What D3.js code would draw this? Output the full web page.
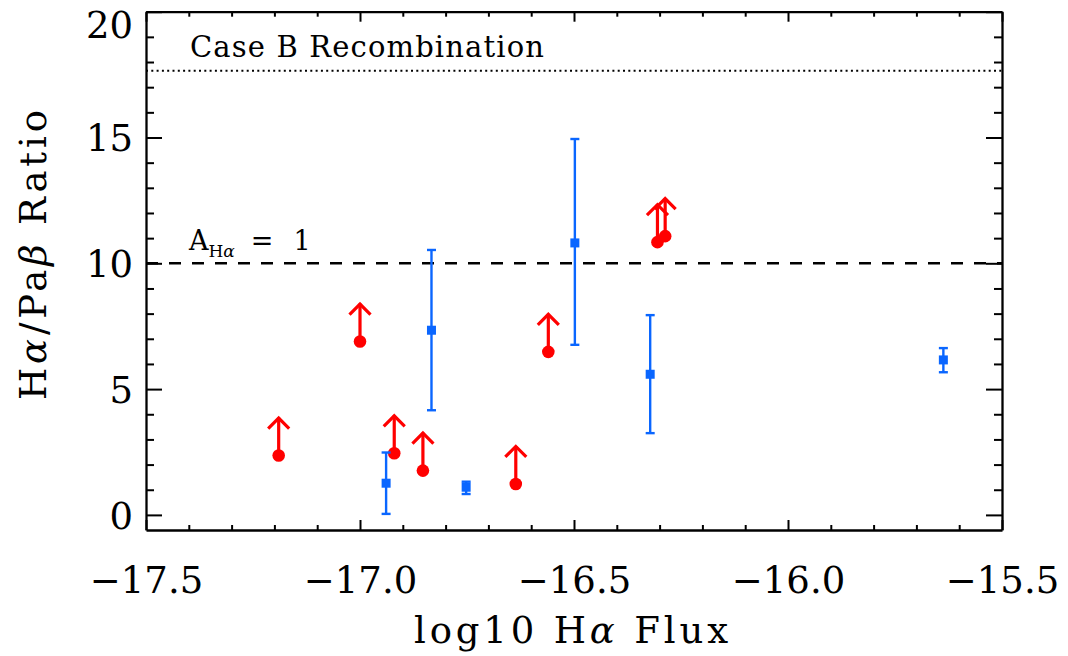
<!DOCTYPE html>
<html>
<head>
<meta charset="utf-8">
<script src="https://cdn.jsdelivr.net/npm/d3@7"></script>
<style>
  html, body { margin: 0; padding: 0; background: #fff; }
  svg { display: block; }
  text { font-family: "DejaVu Serif", serif; fill: #000; }
</style>
</head>
<body>
<svg id="chart" width="1068" height="656"></svg>
<script>
// ---------- data ----------
const xTicks = [-17.5, -17.0, -16.5, -16.0, -15.5];
const yTicks = [0, 5, 10, 15, 20];

// lower limits (red circles with upward arrows)
const limX = [-17.19, -17.00, -16.92, -16.853, -16.636, -16.56, -16.305, -16.287];
const limY = [2.36, 6.89, 2.45, 1.76, 1.23, 6.48, 10.84, 11.08];

// detections (blue squares with error bars)
const detX  = [-16.939, -16.752, -16.833, -16.498, -16.322, -15.637];
const detY  = [1.26, 1.10, 7.34, 10.81, 5.59, 6.16];
const detLo = [0.04, 0.83, 4.16, 6.76, 3.25, 5.67];
const detHi = [2.48, 1.32, 10.53, 14.94, 7.94, 6.63];

const caseB = 17.65;   // Case B recombination ratio
const aHa1  = 10.0;    // A_Hα = 1 line

// ---------- layout ----------
const svg = d3.select("#chart");
const L = 146, R = 1002, T = 11.7, B = 530;
const x = d3.scaleLinear().domain([-17.5, -15.5]).range([L, R]);
const y = d3.scaleLinear().domain([-0.6, 20]).range([B, T]);

const fmt = d => d.toFixed(1).replace("-", "\u2212");
const xMinor = d3.range(0, 21).map(i => -17.5 + i * 0.1).filter(v => Math.abs(Math.round(v * 2) - v * 2) > 1e-6);
const yMinor = d3.range(0, 21).filter(v => v % 5 !== 0);

function styleAxis(g) {
  g.selectAll("path.domain").attr("stroke", "#000").attr("stroke-width", 2.3);
  g.selectAll(".tick line").attr("stroke", "#000").attr("stroke-width", 2);
}

// bottom axis
const gb = svg.append("g").attr("transform", `translate(0,${B})`)
  .call(d3.axisBottom(x).tickValues(xTicks).tickSize(-10).tickSizeOuter(0).tickPadding(37).tickFormat(fmt));
gb.selectAll("text").attr("font-size", 37).attr("font-family", "DejaVu Serif");
svg.append("g").attr("transform", `translate(0,${B})`)
  .call(d3.axisBottom(x).tickValues(xMinor).tickSize(-5).tickSizeOuter(0).tickFormat(""))
  .call(g => g.select("path.domain").remove()).call(styleAxis);
styleAxis(gb);

// top axis
svg.append("g").attr("transform", `translate(0,${T})`)
  .call(d3.axisTop(x).tickValues(xTicks).tickSize(-10).tickSizeOuter(0).tickFormat("")).call(styleAxis);
svg.append("g").attr("transform", `translate(0,${T})`)
  .call(d3.axisTop(x).tickValues(xMinor).tickSize(-5).tickSizeOuter(0).tickFormat(""))
  .call(g => g.select("path.domain").remove()).call(styleAxis);

// left axis
const gl = svg.append("g").attr("transform", `translate(${L},0)`)
  .call(d3.axisLeft(y).tickValues(yTicks).tickSize(-16).tickSizeOuter(0).tickPadding(13).tickFormat(d3.format("d")));
gl.selectAll("text").attr("font-size", 37).attr("font-family", "DejaVu Serif")
  .attr("dy", d => d === 20 ? "0.7em" : "0.36em");
styleAxis(gl);
svg.append("g").attr("transform", `translate(${L},0)`)
  .call(d3.axisLeft(y).tickValues(yMinor).tickSize(-8).tickSizeOuter(0).tickFormat(""))
  .call(g => g.select("path.domain").remove()).call(styleAxis);

// right axis
svg.append("g").attr("transform", `translate(${R},0)`)
  .call(d3.axisRight(y).tickValues(yTicks).tickSize(-16).tickSizeOuter(0).tickFormat("")).call(styleAxis);
svg.append("g").attr("transform", `translate(${R},0)`)
  .call(d3.axisRight(y).tickValues(yMinor).tickSize(-8).tickSizeOuter(0).tickFormat(""))
  .call(g => g.select("path.domain").remove()).call(styleAxis);

svg.selectAll(".tick text").attr("fill", "#000");

// reference lines
svg.append("line").attr("x1", L).attr("x2", R).attr("y1", y(caseB)).attr("y2", y(caseB))
  .attr("stroke", "#000").attr("stroke-width", 2).attr("stroke-dasharray", "2,3.3");
svg.append("line").attr("x1", L).attr("x2", R).attr("y1", y(aHa1)).attr("y2", y(aHa1))
  .attr("stroke", "#000").attr("stroke-width", 2.5).attr("stroke-dasharray", "12,11");

// annotations
svg.append("text").attr("x", 190).attr("y", 57).attr("font-size", 29)
  .attr("textLength", 354).attr("lengthAdjust", "spacing")
  .text("Case B Recombination");
const ta = svg.append("text").attr("x", 189).attr("y", 250).attr("font-size", 27);
ta.append("tspan").text("A");
ta.append("tspan").attr("font-size", 17).attr("dy", 7).text("H");
ta.append("tspan").attr("font-size", 17).attr("font-style", "italic").text("\u03b1");
ta.append("tspan").attr("dy", -7).attr("dx", 16).text("=");
ta.append("tspan").attr("dx", 20).text("1");

// red lower limits
const red = "#ff0000";
const arrLen = 1.55;
const gr = svg.append("g");
limX.forEach((xv, i) => {
  const cx = x(xv), cy = y(limY[i]), ty = y(limY[i] + arrLen);
  gr.append("line").attr("x1", cx).attr("x2", cx).attr("y1", cy).attr("y2", ty + 1)
    .attr("stroke", red).attr("stroke-width", 3.2);
  gr.append("path").attr("d", `M${cx - 10.5},${ty + 12}L${cx},${ty + 1.5}L${cx + 10.5},${ty + 12}`)
    .attr("fill", "none").attr("stroke", red).attr("stroke-width", 3.2);
  gr.append("circle").attr("cx", cx).attr("cy", cy).attr("r", 6.3).attr("fill", red);
});

// blue detections
const blue = "#0a66ff";
const gd = svg.append("g");
detX.forEach((xv, i) => {
  const cx = x(xv);
  gd.append("line").attr("x1", cx).attr("x2", cx).attr("y1", y(detLo[i])).attr("y2", y(detHi[i]))
    .attr("stroke", blue).attr("stroke-width", 2.4);
  [detLo[i], detHi[i]].forEach(v => {
    gd.append("line").attr("x1", cx - 4.5).attr("x2", cx + 4.5).attr("y1", y(v)).attr("y2", y(v))
      .attr("stroke", blue).attr("stroke-width", 2.4);
  });
  gd.append("rect").attr("x", cx - 4.5).attr("y", y(detY[i]) - 4.5).attr("width", 9).attr("height", 9)
    .attr("fill", blue);
});

// axis titles
const xt = svg.append("text").attr("x", 571).attr("y", 643).attr("text-anchor", "middle")
  .attr("font-size", 37).attr("textLength", 314).attr("lengthAdjust", "spacing");
xt.append("tspan").text("log10 H");
xt.append("tspan").attr("font-style", "italic").text("\u03b1");
xt.append("tspan").text(" Flux");

const yt = svg.append("text").attr("transform", "translate(46,255) rotate(-90)").attr("text-anchor", "middle")
  .attr("font-size", 37).attr("textLength", 290).attr("lengthAdjust", "spacing");
yt.append("tspan").text("H");
yt.append("tspan").attr("font-style", "italic").text("\u03b1");
yt.append("tspan").text("/Pa");
yt.append("tspan").attr("font-style", "italic").text("\u03b2");
yt.append("tspan").text(" Ratio");
</script>
</body>
</html>
